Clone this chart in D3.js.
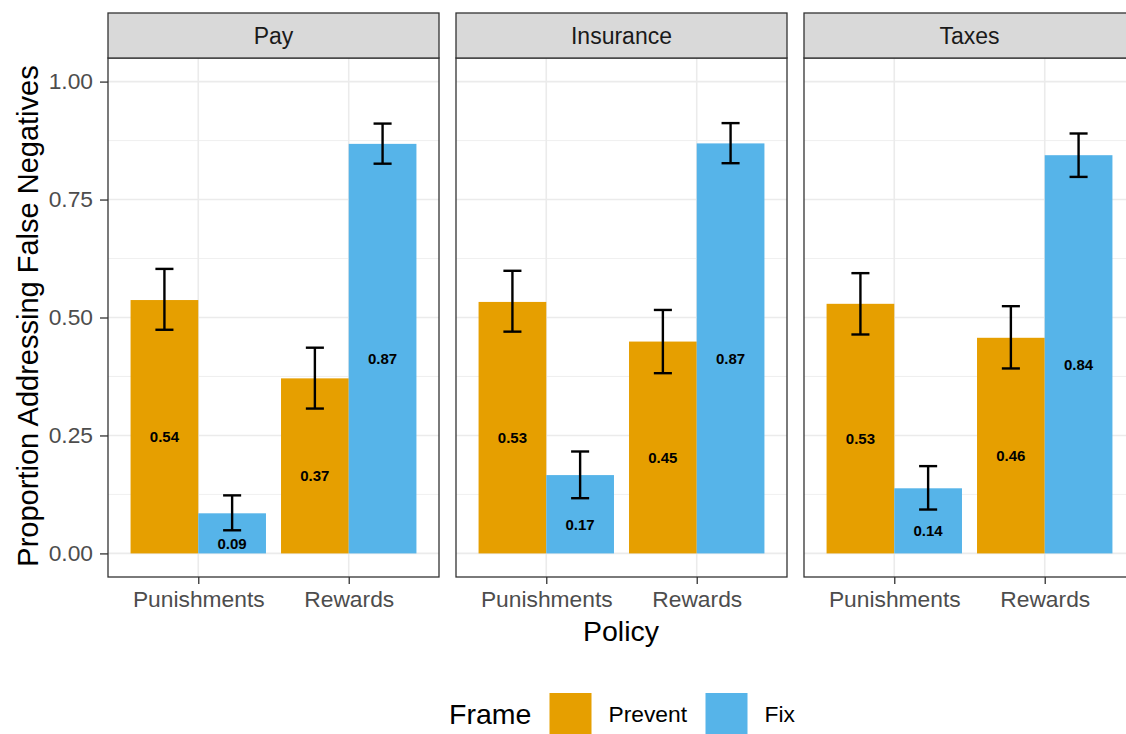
<!DOCTYPE html>
<html>
<head>
<meta charset="utf-8">
<script src="https://cdn.jsdelivr.net/npm/d3@7"></script>
<style>
  html, body { margin: 0; padding: 0; background: #fff; }
  svg { display: block; font-family: "Liberation Sans", Arial, Helvetica, sans-serif; }
</style>
</head>
<body>
<svg id="chart" width="1126" height="734"></svg>
<script>
// ---------- data ----------
const facets = ["Pay", "Insurance", "Taxes"];
const policies = ["Punishments", "Rewards"];
const frames = ["Prevent", "Fix"];
const frameColors = ["#E69F00", "#56B4E9"];
const yTicks = [0, 0.25, 0.5, 0.75, 1.0];
const yMinorTicks = [0.125, 0.375, 0.625, 0.875];

// values per facet: [Punishments, Rewards]
const preventValues = [[0.537, 0.371], [0.533, 0.449], [0.529, 0.457]];
const fixValues     = [[0.085, 0.868], [0.166, 0.869], [0.138, 0.844]];
const preventLow    = [[0.474, 0.307], [0.470, 0.382], [0.464, 0.392]];
const preventHigh   = [[0.603, 0.436], [0.599, 0.516], [0.594, 0.524]];
const fixLow        = [[0.049, 0.826], [0.117, 0.827], [0.093, 0.798]];
const fixHigh       = [[0.123, 0.911], [0.216, 0.912], [0.185, 0.890]];
const preventLabels = [["0.54", "0.37"], ["0.53", "0.45"], ["0.53", "0.46"]];
const fixLabels     = [["0.09", "0.87"], ["0.17", "0.87"], ["0.14", "0.84"]];

// ---------- layout ----------
const svg = d3.select("#chart");
const panelW = 331, panelGap = 17, panelLeft = 108;
const stripTop = 13, stripH = 45;
const panelTop = stripTop + stripH, panelBottom = 577;
const dark = "#333333";

const y = d3.scaleLinear().domain([-0.05, 1.05]).range([panelBottom, panelTop]);

const valuesBy = [preventValues, fixValues];
const lowBy = [preventLow, fixLow];
const highBy = [preventHigh, fixHigh];
const labelsBy = [preventLabels, fixLabels];

facets.forEach((facet, fi) => {
  const x0 = panelLeft + fi * (panelW + panelGap);
  const g = svg.append("g");
  const x = d3.scalePoint().domain(policies).range([x0, x0 + panelW]).padding(0.6);
  const step = x.step();
  const dodge = d3.scaleBand().domain(frames).range([-0.45 * step, 0.45 * step]).padding(0);

  g.append("rect").attr("x", x0).attr("y", panelTop).attr("width", panelW)
    .attr("height", panelBottom - panelTop).attr("fill", "#fff");

  // grid
  g.selectAll(".ymin").data(yMinorTicks).join("line")
    .attr("x1", x0).attr("x2", x0 + panelW)
    .attr("y1", d => y(d)).attr("y2", d => y(d))
    .attr("stroke", "#EBEBEB").attr("stroke-width", 0.8);
  g.selectAll(".ymaj").data(yTicks).join("line")
    .attr("x1", x0).attr("x2", x0 + panelW)
    .attr("y1", d => y(d)).attr("y2", d => y(d))
    .attr("stroke", "#EBEBEB").attr("stroke-width", 1.6);
  g.selectAll(".xmaj").data(policies).join("line")
    .attr("x1", d => x(d)).attr("x2", d => x(d))
    .attr("y1", panelTop).attr("y2", panelBottom)
    .attr("stroke", "#EBEBEB").attr("stroke-width", 1.6);

  // bars
  frames.forEach((fr, ki) => {
    policies.forEach((p, pi) => {
      const v = valuesBy[ki][fi][pi];
      const bx = x(p) + dodge(fr);
      g.append("rect")
        .attr("x", bx).attr("width", dodge.bandwidth())
        .attr("y", y(v)).attr("height", y(0) - y(v))
        .attr("fill", frameColors[ki]);
    });
  });

  // error bars
  const capHalf = 0.06 * step;
  frames.forEach((fr, ki) => {
    policies.forEach((p, pi) => {
      const cx = x(p) + dodge(fr) + dodge.bandwidth() / 2;
      const lo = lowBy[ki][fi][pi], hi = highBy[ki][fi][pi];
      const eg = g.append("g").attr("stroke", "#000").attr("stroke-width", 2.4).attr("fill", "none");
      eg.append("line").attr("x1", cx).attr("x2", cx).attr("y1", y(lo)).attr("y2", y(hi));
      eg.append("line").attr("x1", cx - capHalf).attr("x2", cx + capHalf).attr("y1", y(lo)).attr("y2", y(lo));
      eg.append("line").attr("x1", cx - capHalf).attr("x2", cx + capHalf).attr("y1", y(hi)).attr("y2", y(hi));
    });
  });

  // value labels
  frames.forEach((fr, ki) => {
    policies.forEach((p, pi) => {
      const v = valuesBy[ki][fi][pi];
      const cx = x(p) + dodge(fr) + dodge.bandwidth() / 2;
      g.append("text")
        .attr("x", cx).attr("y", y(v / 2) + 10)
        .attr("text-anchor", "middle").attr("dominant-baseline", "central")
        .attr("font-size", 15).attr("font-weight", "bold").attr("fill", "#000")
        .text(labelsBy[ki][fi][pi]);
    });
  });

  // panel border
  g.append("rect").attr("x", x0).attr("y", panelTop).attr("width", panelW)
    .attr("height", panelBottom - panelTop).attr("fill", "none")
    .attr("stroke", dark).attr("stroke-width", 1.3);

  // strip
  g.append("rect").attr("x", x0).attr("y", stripTop).attr("width", panelW).attr("height", stripH)
    .attr("fill", "#D9D9D9").attr("stroke", dark).attr("stroke-width", 1.3);
  g.append("text").attr("x", x0 + panelW / 2).attr("y", stripTop + stripH / 2)
    .attr("text-anchor", "middle").attr("dominant-baseline", "central")
    .attr("font-size", 23).attr("fill", "#1A1A1A").text(facet);

  // x axis
  const xAxis = d3.axisBottom(x).tickSize(7).tickPadding(7);
  const xa = g.append("g").attr("transform", `translate(0,${panelBottom})`).call(xAxis);
  xa.select(".domain").remove();
  xa.selectAll(".tick line").attr("stroke", dark).attr("stroke-width", 1.3);
  xa.selectAll(".tick text").attr("font-size", 22.8).attr("fill", "#4D4D4D")
    .attr("font-family", "Liberation Sans, Arial, sans-serif");

  if (fi === 0) {
    const yAxis = d3.axisLeft(y).tickValues(yTicks).tickFormat(d3.format(".2f")).tickSize(8).tickPadding(7);
    const ya = g.append("g").attr("transform", `translate(${x0},0)`).call(yAxis);
    ya.select(".domain").remove();
    ya.selectAll(".tick line").attr("stroke", dark).attr("stroke-width", 1.3);
    ya.selectAll(".tick text").attr("font-size", 22.8).attr("fill", "#4D4D4D")
      .attr("font-family", "Liberation Sans, Arial, sans-serif");
  }
});

// axis titles
svg.append("text").attr("x", 621).attr("y", 641)
  .attr("text-anchor", "middle").attr("font-size", 28.5).attr("fill", "#000").text("Policy");
svg.append("text").attr("transform", `translate(38,316) rotate(-90)`)
  .attr("text-anchor", "middle").attr("font-size", 29).attr("fill", "#000")
  .text("Proportion Addressing False Negatives");

// legend
const legend = svg.append("g");
legend.append("text").attr("x", 449).attr("y", 714).attr("dominant-baseline", "central")
  .attr("font-size", 28.5).attr("fill", "#000").text("Frame");
const keyX = [549.5, 705.5];
frames.forEach((fr, ki) => {
  legend.append("rect").attr("x", keyX[ki]).attr("y", 693).attr("width", 42).attr("height", 42)
    .attr("fill", frameColors[ki]);
  legend.append("text").attr("x", keyX[ki] + 59).attr("y", 714).attr("dominant-baseline", "central")
    .attr("font-size", 22.8).attr("fill", "#000").text(fr);
});
</script>
</body>
</html>
